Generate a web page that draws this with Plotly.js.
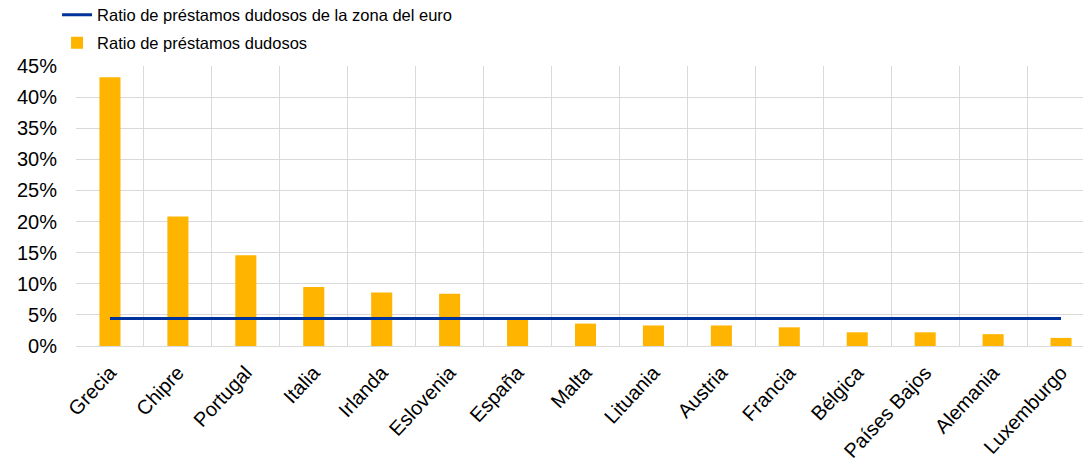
<!DOCTYPE html>
<html>
<head>
<meta charset="utf-8">
<script src="https://cdn.plot.ly/plotly-3.0.1.min.js"></script>
<style>html,body{margin:0;padding:0;background:#fff;overflow:hidden;}#chart{width:1095px;height:461px;}</style>
</head>
<body>
<div id="chart"></div>
<script>
const countries = ["Grecia","Chipre","Portugal","Italia","Irlanda","Eslovenia","España","Malta","Lituania","Austria","Francia","Bélgica","Países Bajos","Alemania","Luxemburgo"];
const nplRatio = [43.2, 20.8, 14.6, 9.5, 8.6, 8.4, 4.3, 3.6, 3.3, 3.3, 3.0, 2.2, 2.2, 1.9, 1.3];
const euroAreaRatio = [4.4, 4.4, 4.4, 4.4, 4.4, 4.4, 4.4, 4.4, 4.4, 4.4, 4.4, 4.4, 4.4, 4.4, 4.4];
const yTicks = [0, 5, 10, 15, 20, 25, 30, 35, 40, 45];

const font = "Liberation Sans, Arial, sans-serif";
const legendFont = {size: 16.5, family: font, color: "#000"};

const traces = [
  {
    type: "bar",
    name: "Ratio de préstamos dudosos",
    x: countries,
    y: nplRatio,
    marker: {color: "#FFB400"},
    width: 0.31,
    legend: "legend2"
  },
  {
    type: "scatter",
    mode: "lines",
    name: "Ratio de préstamos dudosos de la zona del euro",
    x: countries,
    y: euroAreaRatio,
    line: {color: "#003299", width: 3},
    legend: "legend"
  }
];

const layout = {
  width: 1095,
  height: 461,
  margin: {l: 76, r: 0, t: 66, b: 115, autoexpand: false},
  paper_bgcolor: "#fff",
  plot_bgcolor: "#fff",
  font: {family: font, color: "#000"},
  showlegend: true,
  legend: {
    x: -0.0186, y: 1.182, xanchor: "left", yanchor: "middle",
    font: legendFont, itemwidth: 30, bgcolor: "rgba(0,0,0,0)"
  },
  legend2: {
    x: -0.0186, y: 1.082, xanchor: "left", yanchor: "middle",
    font: legendFont, itemwidth: 30, bgcolor: "rgba(0,0,0,0)"
  },
  xaxis: {
    type: "category",
    range: [-0.5, 14.5],
    tickson: "boundaries",
    showgrid: true,
    gridcolor: "#d9d9d9",
    gridwidth: 1,
    ticks: "",
    tickangle: -47,
    ticklabelstandoff: 10,
    tickfont: {size: 20, family: font, color: "#000"},
    showline: false,
    automargin: false,
    fixedrange: true
  },
  yaxis: {
    range: [0, 45],
    tickvals: yTicks,
    ticktext: yTicks.map(v => v + "%"),
    showgrid: true,
    gridcolor: "#d9d9d9",
    gridwidth: 1,
    zeroline: true,
    zerolinecolor: "#d9d9d9",
    zerolinewidth: 1,
    tickfont: {size: 20, family: font, color: "#000"},
    ticks: "",
    ticklabelstandoff: 18,
    automargin: false,
    fixedrange: true
  }
};

Plotly.newPlot("chart", traces, layout, {displayModeBar: false, staticPlot: true});
</script>
</body>
</html>
